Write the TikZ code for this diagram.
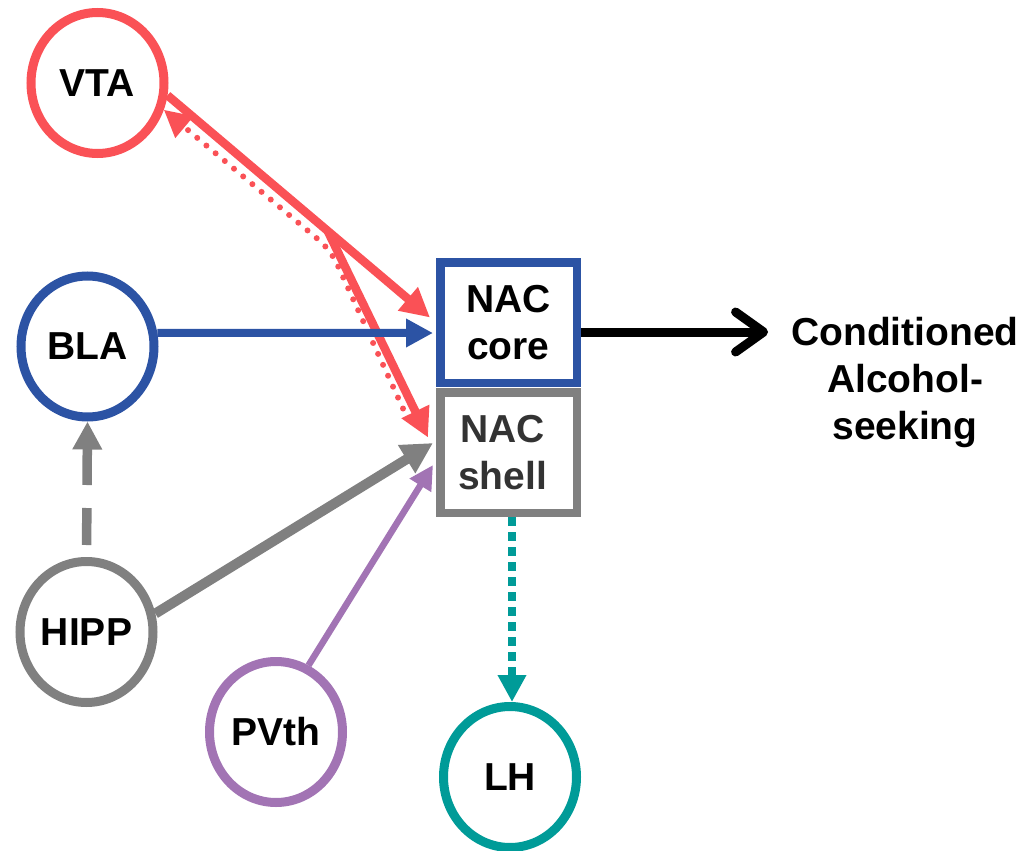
\documentclass[tikz,border=0pt]{standalone}
\usepackage{fontspec}
\setmainfont{Liberation Sans}
\usetikzlibrary{arrows.meta,calc,shapes.geometric}
\definecolor{cred}{HTML}{FA5156}
\definecolor{cblue}{HTML}{2C53A4}
\definecolor{cgray}{HTML}{808080}
\definecolor{cpurple}{HTML}{A274B4}
\definecolor{cteal}{HTML}{009B98}
\definecolor{shelltext}{HTML}{333333}
\begin{document}
\begin{tikzpicture}[x=1pt,y=-1pt,
  lbl/.style={font=\fontsize{39}{47}\selectfont\bfseries},
  region/.style={ellipse, draw, lbl, line width=9pt, minimum width=133pt, minimum height=141pt, inner sep=0pt},
  nacbox/.style={rectangle, draw, lbl, line width=8.5pt, minimum width=136.5pt, minimum height=120.5pt, inner sep=0pt, align=center},
  tri/.style={-{Triangle[length=#1,width=#1]}},
  tri/.default=27pt,
  redline/.style={draw=cred, line width=8.5pt, tri=29pt},
  reddot/.style={draw=cred, line width=6pt, dash pattern=on 0pt off 12pt, line cap=round, tri=27pt},
  blueline/.style={draw=cblue, line width=8pt, tri},
  grayline/.style={draw=cgray, line width=10pt, tri=31pt},
  graydash/.style={draw=cgray, line width=9.5pt, dash pattern=on 37pt off 23pt, tri=28pt},
  purpleline/.style={draw=cpurple, line width=6.5pt, tri=24pt},
  tealdash/.style={draw=cteal, line width=8.5pt, dash pattern=on 9pt off 6pt, tri=27pt},
  outarrow/.style={draw=black, line width=9pt, -{Straight Barb[length=28pt,width=40pt,round]}},
]
\useasboundingbox (0,0) rectangle (1021,851);

\node[region, draw=cred] (VTA) at (97.5,83) {VTA};
\node[region, draw=cblue] (BLA) at (87.5,346.5) {BLA};
\node[region, draw=cgray] (HIPP) at (86.5,632) {HIPP};
\node[region, draw=cpurple] (PVth) at (276,732) {PVth};
\node[region, draw=cteal] (LH) at (510,777) {LH};
\node[nacbox, draw=cblue] (core) at (508.5,322.5) {NAC\\core};
\node[nacbox, draw=cgray, text=shelltext] (shell) at (508.5,452.5) {NAC\hspace*{12pt}\\shell\hspace*{12pt}};
\node[lbl, align=center, inner sep=0pt] (txt) at (905,382.5) {Conditioned\\Alcohol-\\seeking};

% VTA projections
\draw[redline] (VTA.-10) -- coordinate[pos=0.61] (br) ($(core.west)+(-6,-5)$);
\draw[redline] (br) -- ($(shell.west)+(-8,-15)$);
\draw[reddot, rounded corners=15pt] ($(shell.west)+(-33,-44)$) -- ($(br)+(3,19)$) -- (VTA.-22);

% other inputs
\draw[blueline] (BLA.11) -- ($(core.west)+(-3,10.5)$);
\draw[grayline] (HIPP.15) -- ($(shell.west)+(-3,-9.5)$);
\draw[purpleline] (PVth.64) -- ($(shell.west)+(-3,12.5)$);
\draw[graydash, shorten <=12pt] (HIPP.north) -- (BLA.south);
\draw[tealdash] ($(shell.south)+(3.5,0)$) -- ($(LH.north)+(2,0)$);

% output
\draw[outarrow] ($(core.east)+(0,9.5)$) -- ($(core.east -| txt.west)+(-23,9.5)$);
\end{tikzpicture}
\end{document}
